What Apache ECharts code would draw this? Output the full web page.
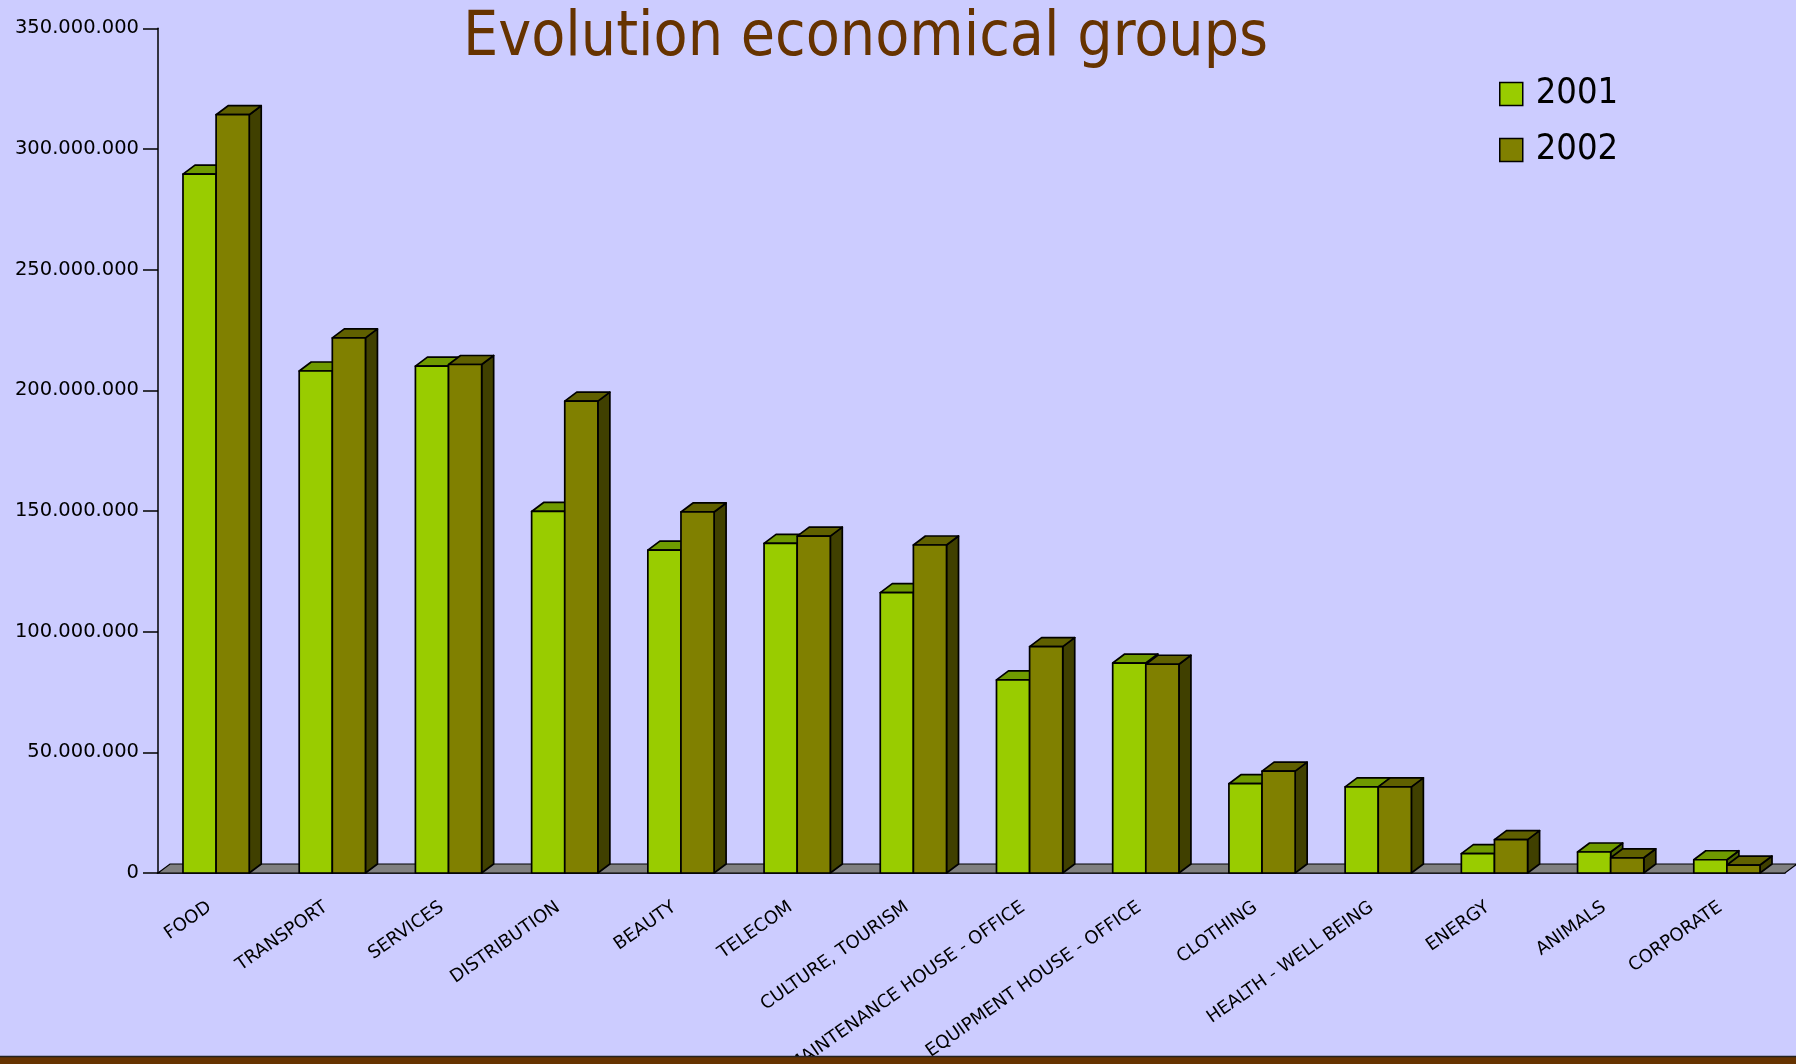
<!DOCTYPE html>
<html>
<head>
<meta charset="utf-8">
<script src="https://cdn.jsdelivr.net/npm/echarts@6/dist/echarts.min.js"></script>
<style>
html,body{margin:0;padding:0;background:#CCCCFF;}
#chart{width:1796px;height:1064px;}
</style>
</head>
<body>
<div id="chart"></div>
<script>
// ---- data ----
const categories = ['FOOD','TRANSPORT','SERVICES','DISTRIBUTION','BEAUTY','TELECOM','CULTURE, TOURISM','MAINTENANCE HOUSE - OFFICE','EQUIPMENT HOUSE - OFFICE','CLOTHING','HEALTH - WELL BEING','ENERGY','ANIMALS','CORPORATE'];
const seriesNames = ['2001','2002'];
const values2001 = [289600000,208000000,210000000,149800000,133800000,136600000,116200000,80000000,87000000,37000000,35700000,8000000,8700000,5500000];
const values2002 = [314200000,221700000,210700000,195500000,149600000,139600000,135900000,93800000,86500000,42200000,35700000,13800000,6300000,3300000];
const yTicks = [0,50000000,100000000,150000000,200000000,250000000,300000000,350000000];
const titleText = 'Evolution economical groups';

// ---- style ----
const FONT = 'DejaVu Sans';
const FONT_C = '"DejaVu Sans Condensed", "DejaVu Sans"';
const BAR_FRAC = 0.285;   // bar width as fraction of band
const DEPTH_X = 12, DEPTH_Y = 9;
const palette = {
  '2001': {front:'#99CC00', top:'#6f9a00', side:'#4c6600'},
  '2002': {front:'#808000', top:'#606000', side:'#404000'}
};

function fmt(v){ return String(v).replace(/\B(?=(\d{3})+(?!\d))/g,'.'); }

function barRenderer(idx, colors){
  return function(params, api){
    const i = api.value(0), v = api.value(1);
    const base = api.coord([i, 0]);
    const top = api.coord([i, v]);
    const band = api.size([1, 0])[0];
    const w = band * BAR_FRAC;
    const x0 = base[0] + (idx === 0 ? -w : 0);
    const x1 = x0 + w;
    const y0 = base[1], y1 = top[1];
    const st = {stroke:'#000', lineWidth:1.7, lineJoin:'round'};
    return {
      type:'group',
      children:[
        {type:'polygon', shape:{points:[[x1,y1],[x1+DEPTH_X,y1-DEPTH_Y],[x1+DEPTH_X,y0-DEPTH_Y],[x1,y0]]}, style:Object.assign({fill:colors.side}, st)},
        {type:'polygon', shape:{points:[[x0,y1],[x0+DEPTH_X,y1-DEPTH_Y],[x1+DEPTH_X,y1-DEPTH_Y],[x1,y1]]}, style:Object.assign({fill:colors.top}, st)},
        {type:'rect', shape:{x:x0, y:y1, width:w, height:y0-y1}, style:Object.assign({fill:colors.front}, st)}
      ]
    };
  };
}

function floorRenderer(params, api){
  const cs = params.coordSys;
  const y0 = api.coord([0, 0])[1];
  const xa = cs.x, xb = cs.x + cs.width;
  return {
    type:'polygon',
    shape:{points:[[xa,y0],[xa+DEPTH_X,y0-DEPTH_Y],[xb+DEPTH_X,y0-DEPTH_Y],[xb,y0]]},
    style:{fill:'#808080', stroke:'#000', lineWidth:1.2}
  };
}

const chart = echarts.init(document.getElementById('chart'), null, {renderer:'canvas'});
const option = {
  backgroundColor:'#CCCCFF',
  animation:false,
  title:{
    text:titleText, left:463, top:8, padding:0,
    textStyle:{fontFamily:FONT_C, fontSize:62, fontWeight:'normal', color:'#663300'}
  },
  legend:{
    orient:'vertical', left:1494, top:71, itemWidth:23, itemHeight:23, itemGap:20,
    icon:'rect',
    data:seriesNames.map(n => ({name:n, itemStyle:{color:palette[n].front, borderColor:'#000', borderWidth:1.5}})),
    textStyle:{fontFamily:FONT_C, fontSize:36, color:'#000', lineHeight:34, padding:[0,0,0,8]}
  },
  grid:{left:158, right:11, top:28.3, bottom:191, containLabel:false, outerBoundsMode:'none'},
  xAxis:{
    type:'category', data:categories, boundaryGap:true,
    axisLine:{lineStyle:{color:'#000', width:1.5}},
    axisTick:{length:15, lineStyle:{color:'#000', width:1.5}},
    axisLabel:{interval:0, rotate:35, fontFamily:FONT, fontSize:18, color:'#000', margin:28, padding:[0,8,0,0]},
    splitLine:{show:false}
  },
  yAxis:{
    type:'value', min:yTicks[0], max:yTicks[yTicks.length-1], interval:yTicks[1]-yTicks[0],
    axisLine:{show:true, lineStyle:{color:'#000', width:1.5}},
    axisTick:{show:true, length:15, lineStyle:{color:'#000', width:1.5}},
    axisLabel:{fontFamily:FONT, fontSize:19.5, color:'#000', margin:19, formatter:fmt},
    splitLine:{show:false}
  },
  series:[
    {name:'floor', type:'custom', renderItem:floorRenderer, data:[[0,0]], silent:true, z:1},
    {name:'2001', type:'custom', renderItem:barRenderer(0, palette['2001']),
     itemStyle:{color:palette['2001'].front},
     data:values2001.map((v,i)=>[i,v]), encode:{x:0,y:1}, z:2},
    {name:'2002', type:'custom', renderItem:barRenderer(1, palette['2002']),
     itemStyle:{color:palette['2002'].front},
     data:values2002.map((v,i)=>[i,v]), encode:{x:0,y:1}, z:3}
  ],
  graphic:[
    {type:'rect', z:100, shape:{x:0, y:1057, width:1796, height:7}, style:{fill:'#663300'}},
    {type:'line', z:101, shape:{x1:0, y1:1056.5, x2:1796, y2:1056.5}, style:{stroke:'#222', lineWidth:1.5}}
  ]
};
chart.setOption(option);
</script>
</body>
</html>
